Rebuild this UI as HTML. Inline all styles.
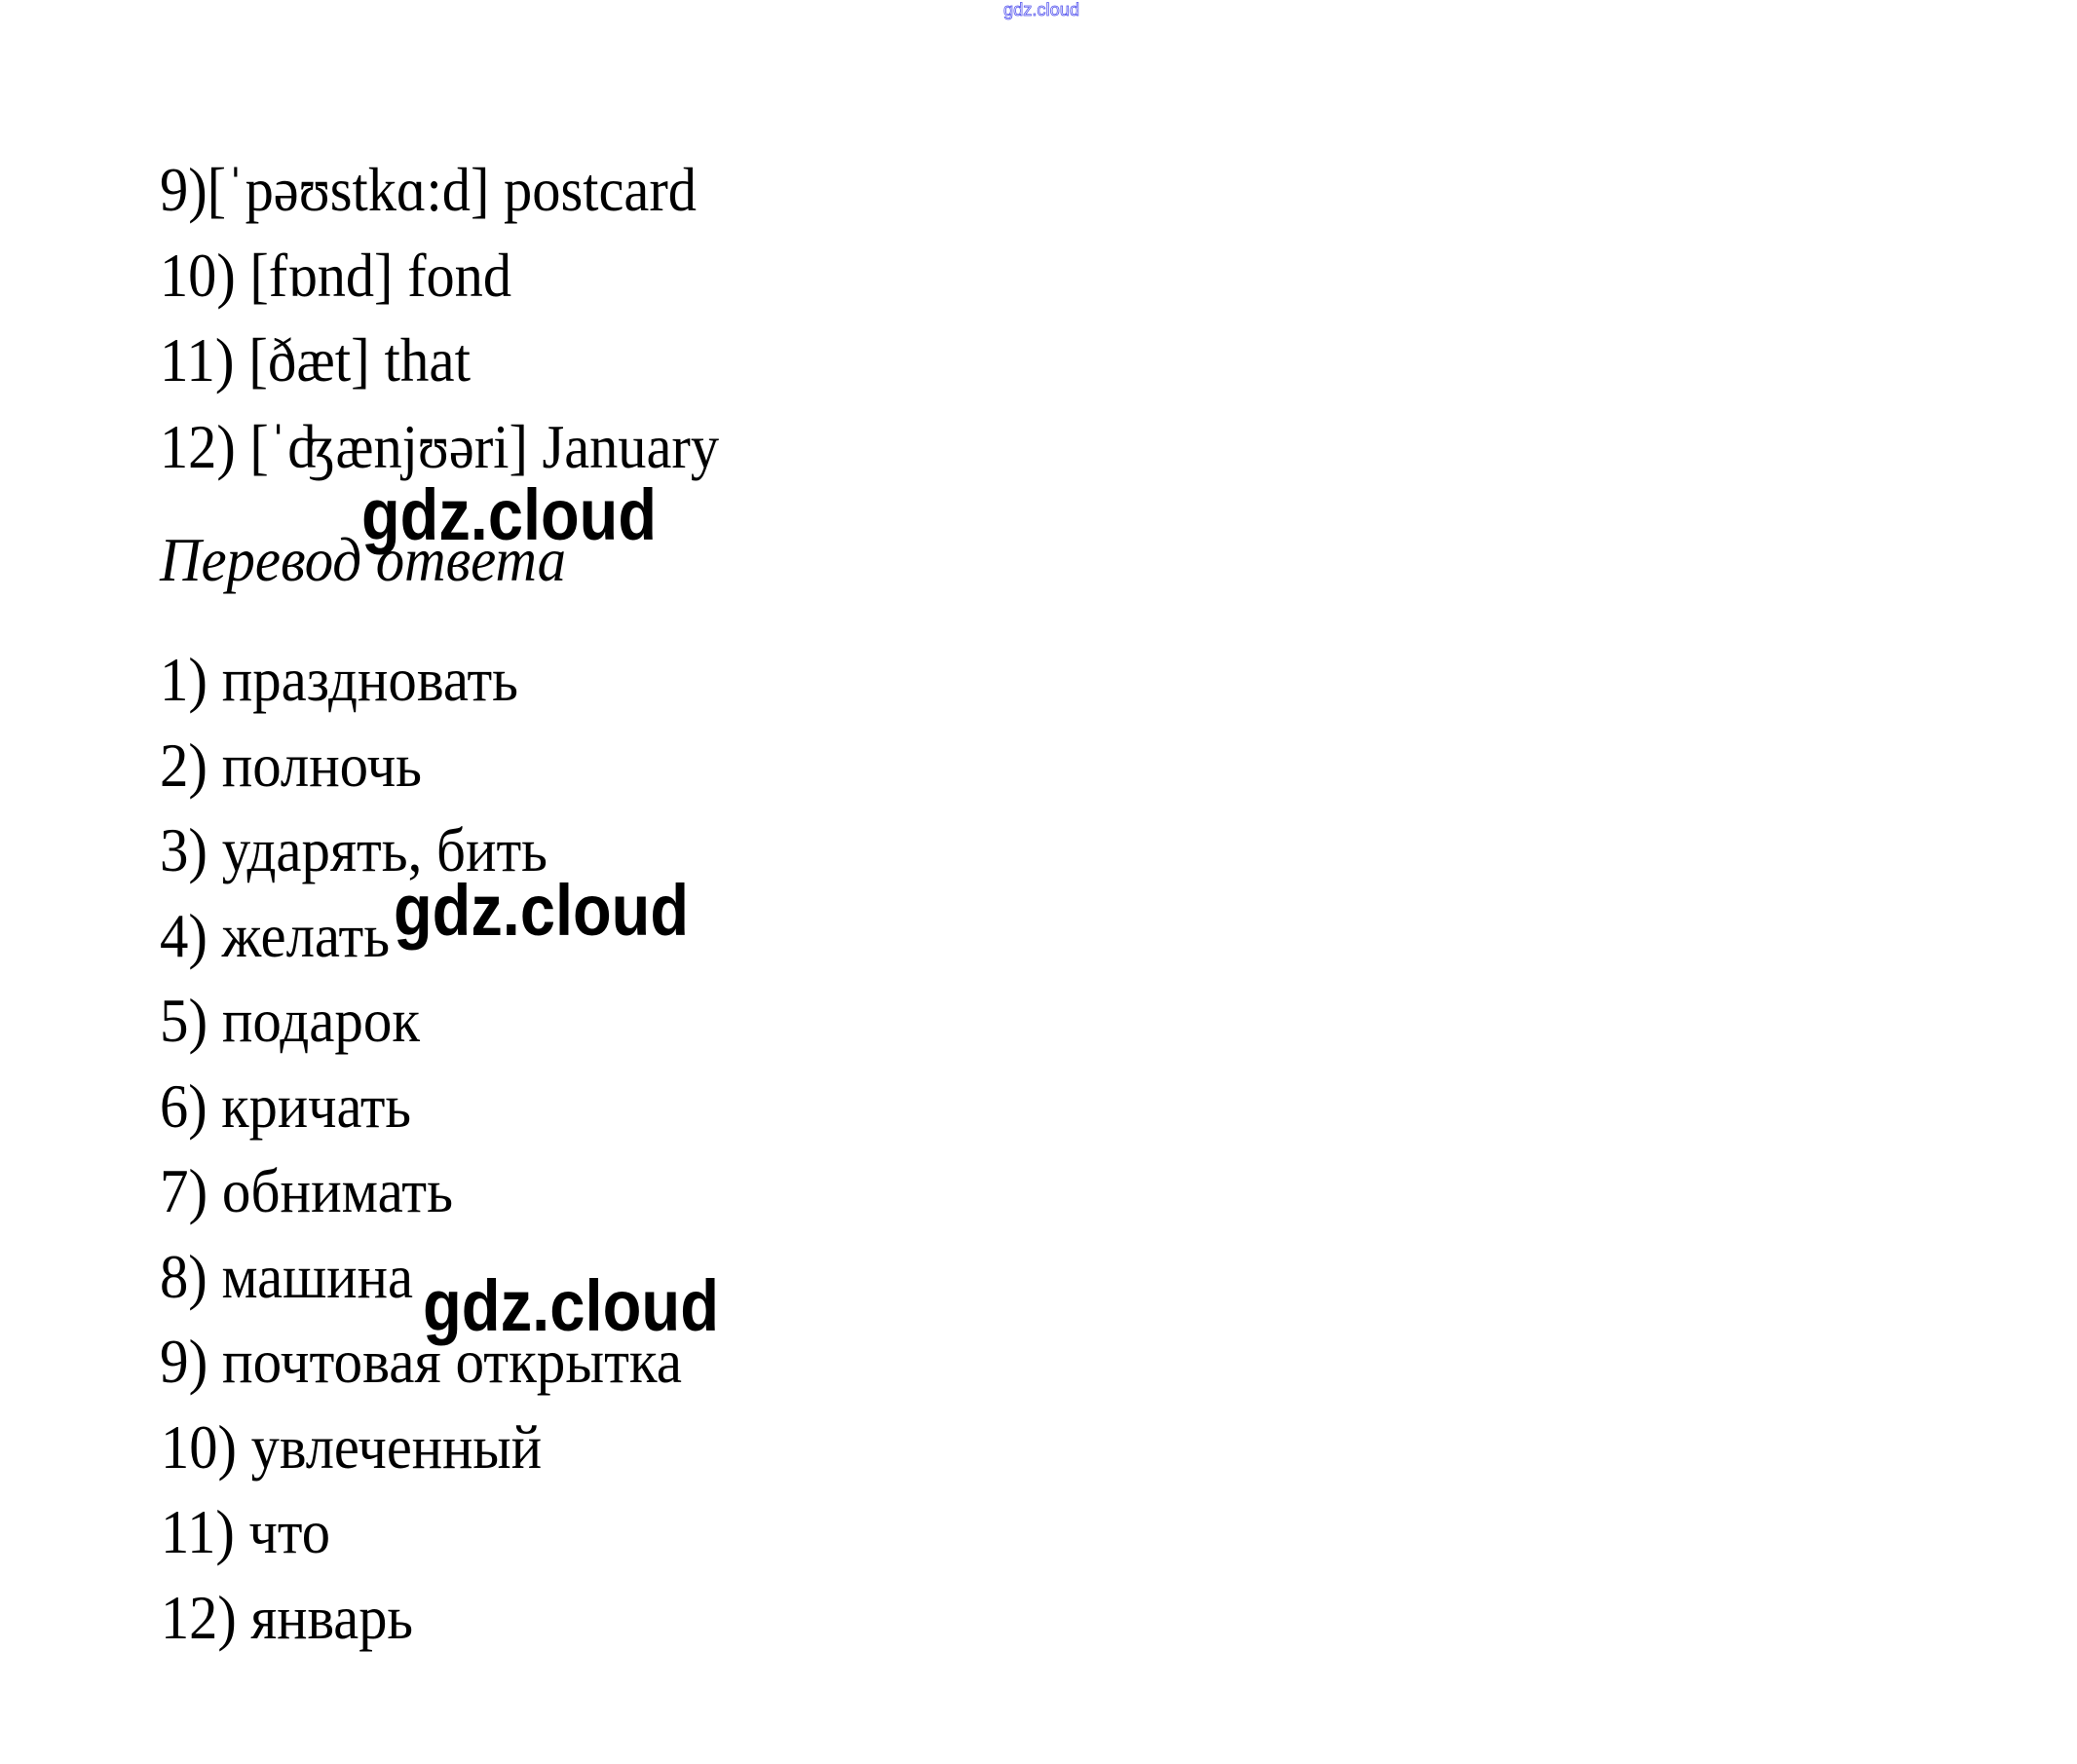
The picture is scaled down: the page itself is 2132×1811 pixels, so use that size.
<!DOCTYPE html>
<html><head><meta charset="utf-8">
<style>
html,body{margin:0;padding:0;background:#fff;}
svg{display:block;}
.t{font-family:"Liberation Serif","DejaVu Serif",serif;font-size:64px;fill:#000;}
.i{font-family:"Liberation Serif","DejaVu Serif",serif;font-size:64px;font-style:italic;fill:#000;}
.w{font-family:"Liberation Sans","DejaVu Sans",sans-serif;font-size:74px;font-weight:bold;fill:#000;}
</style></head>
<body>
<svg width="2132" height="1811" viewBox="0 0 2132 1811" xmlns="http://www.w3.org/2000/svg">
<text x="1030" y="16" font-family="Liberation Sans, sans-serif" font-size="18" fill="#fff" stroke="#5555ee" stroke-width="0.8" textLength="78" lengthAdjust="spacingAndGlyphs">gdz.cloud</text>
<g transform="translate(0,-5)">
<text class="t" x="164" y="221" textLength="551" lengthAdjust="spacingAndGlyphs">9)[ˈpəʊstkɑ:d] postcard</text>
<text class="t" x="164" y="309" textLength="361" lengthAdjust="spacingAndGlyphs">10) [fɒnd] fond</text>
<text class="t" x="164" y="396" textLength="319" lengthAdjust="spacingAndGlyphs">11) [ðæt] that</text>
<text class="t" x="164" y="485" textLength="574" lengthAdjust="spacingAndGlyphs">12) [ˈʤænjʊəri] January</text>

<text class="i" x="164" y="601" textLength="417" lengthAdjust="spacingAndGlyphs">Перевод ответа</text>

<text class="t" x="164" y="724" textLength="368" lengthAdjust="spacingAndGlyphs">1) праздновать</text>
<text class="t" x="164" y="812" textLength="269" lengthAdjust="spacingAndGlyphs">2) полночь</text>
<text class="t" x="164" y="899" textLength="398" lengthAdjust="spacingAndGlyphs">3) ударять, бить</text>
<text class="t" x="164" y="987" textLength="236" lengthAdjust="spacingAndGlyphs">4) желать</text>
<text class="t" x="164" y="1074" textLength="267" lengthAdjust="spacingAndGlyphs">5) подарок</text>
<text class="t" x="164" y="1162" textLength="258" lengthAdjust="spacingAndGlyphs">6) кричать</text>
<text class="t" x="164" y="1249" textLength="301" lengthAdjust="spacingAndGlyphs">7) обнимать</text>
<text class="t" x="164" y="1337" textLength="260" lengthAdjust="spacingAndGlyphs">8) машина</text>
<text class="t" x="164" y="1424" textLength="536" lengthAdjust="spacingAndGlyphs">9) почтовая открытка</text>
<text class="t" x="165" y="1512" textLength="391" lengthAdjust="spacingAndGlyphs">10) увлеченный</text>
<text class="t" x="165" y="1599" textLength="174" lengthAdjust="spacingAndGlyphs">11) что</text>
<text class="t" x="165" y="1687" textLength="259" lengthAdjust="spacingAndGlyphs">12) январь</text>
</g>
<text class="w" x="371" y="554" textLength="303" lengthAdjust="spacingAndGlyphs">gdz.cloud</text>
<text class="w" x="404" y="960" textLength="303" lengthAdjust="spacingAndGlyphs">gdz.cloud</text>
<text class="w" x="434" y="1366" textLength="304" lengthAdjust="spacingAndGlyphs">gdz.cloud</text>
</svg>
</body></html>
